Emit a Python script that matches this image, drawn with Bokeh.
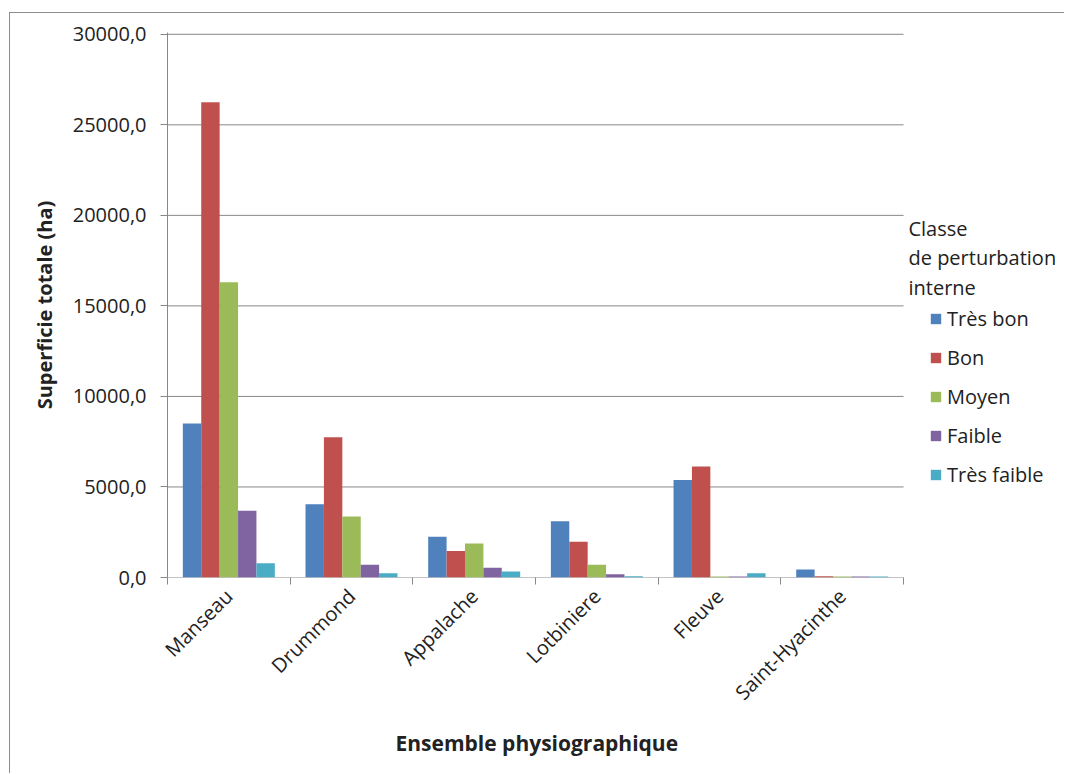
from math import pi

from bokeh.embed import file_html
from bokeh.models import (ColumnDataSource, FixedTicker, Label, Legend,
                          LegendItem, Range1d, Title)
from bokeh.plotting import figure
from bokeh.resources import INLINE
from bokeh.transform import dodge

# Surface area (ha) per physiographic unit and internal disturbance class
categories = ["Manseau", "Drummond", "Appalache", "Lotbiniere", "Fleuve", "Saint-Hyacinthe"]
series_names = ["Très bon", "Bon", "Moyen", "Faible", "Très faible"]
tres_bon = [8500, 4050, 2250, 3110, 5380, 440]
bon = [26250, 7740, 1470, 1970, 6130, 70]
moyen = [16300, 3370, 1880, 700, 60, 50]
faible = [3690, 700, 540, 180, 50, 60]
tres_faible = [790, 240, 330, 70, 240, 60]

y_ticks = [0, 5000, 10000, 15000, 20000, 25000, 30000]
y_tick_labels = ["0,0", "5000,0", "10000,0", "15000,0", "20000,0", "25000,0", "30000,0"]

legend_title = ["Classe", "de perturbation", "interne"]
x_title = "Ensemble physiographique"
y_title = "Superficie totale (ha)"

colors = ["#4F81BD", "#C0504D", "#9BBB59", "#8064A2", "#4BACC6"]
FONT = "Open Sans"
TEXT = "#222222"
GRID = "#888888"

n = len(categories)
centers = [i + 0.5 for i in range(n)]
source = ColumnDataSource(dict(
    x=centers, s0=tres_bon, s1=bon, s2=moyen, s3=faible, s4=tres_faible,
))
grid_src = ColumnDataSource(dict(y=y_ticks))

# the frame runs on to the right edge so the legend can sit inside it;
# the bars occupy the first n units of the x range
p = figure(
    width=1055, height=761,
    x_range=Range1d(0, 7.32), y_range=Range1d(0, 30100),
    output_backend="svg", toolbar_location=None,
    min_border_left=157, min_border_right=0,
    min_border_top=19, min_border_bottom=197,
)
p.margin = (12, 0, 0, 9)
p.styles = {"border-left": "1px solid #8c8c8c", "border-top": "1px solid #8c8c8c"}
p.outline_line_color = None
p.background_fill_color = "white"
p.border_fill_color = "white"

# horizontal grid lines, limited to the category span
p.segment(x0=0, x1=n, y0="y", y1="y", source=grid_src,
          line_color=GRID, line_width=1)

bar_w = 0.15
renderers = []
for i, col in enumerate(colors):
    r = p.vbar(x=dodge("x", (i - 2) * bar_w, range=p.x_range), top=f"s{i}",
               width=bar_w, source=source, fill_color=col, line_color=None)
    renderers.append(r)

# x axis: labels at category centres, small ticks at category boundaries
xa = p.xaxis[0]
xa.ticker = FixedTicker(ticks=centers, minor_ticks=list(range(n + 1)))
xa.major_label_overrides = {c: name for c, name in zip(centers, categories)}
xa.major_tick_line_color = None
xa.minor_tick_line_color = GRID
xa.minor_tick_in = 0
xa.minor_tick_out = 7
xa.axis_line_color = None
xa.major_label_orientation = pi / 4
xa.major_label_text_font = FONT
xa.major_label_text_font_size = "20px"
xa.major_label_text_color = TEXT
xa.major_label_standoff = 8

# x axis title, placed under the category span rather than the whole frame
p.add_layout(Title(
    text=x_title, align="left", offset=228, standoff=16,
    text_font=FONT, text_font_style="bold", text_font_size="21px",
    text_color=TEXT,
), "below")

ya = p.yaxis[0]
ya.ticker = FixedTicker(ticks=y_ticks, minor_ticks=[])
ya.major_label_overrides = dict(zip(y_ticks, y_tick_labels))
ya.major_tick_line_color = GRID
ya.major_tick_in = 0
ya.major_tick_out = 7
ya.axis_line_color = GRID
ya.major_label_text_font = FONT
ya.major_label_text_font_size = "20px"
ya.major_label_text_color = TEXT
ya.major_label_standoff = 14
ya.axis_label = y_title
ya.axis_label_text_font = FONT
ya.axis_label_text_font_style = "bold"
ya.axis_label_text_font_size = "20px"
ya.axis_label_text_color = TEXT
ya.axis_label_standoff = 12

p.xgrid.visible = False
p.ygrid.visible = False

legend = Legend(
    items=[LegendItem(label=name, renderers=[r]) for name, r in zip(series_names, renderers)],
    location=(762, 89),
    glyph_width=13, glyph_height=13,
    label_text_font=FONT, label_text_font_size="20px", label_text_color=TEXT,
    label_height=20, label_standoff=5, spacing=12, padding=0, margin=0,
    border_line_color=None, background_fill_alpha=0,
)
p.add_layout(legend)

for k, line in enumerate(legend_title):
    p.add_layout(Label(
        x=6.04, y=19280 - k * 1630, text=line,
        text_font=FONT, text_font_size="20px", text_color=TEXT,
        text_baseline="middle", text_align="left",
    ))

open("out.html", "w").write(file_html(p, INLINE))
